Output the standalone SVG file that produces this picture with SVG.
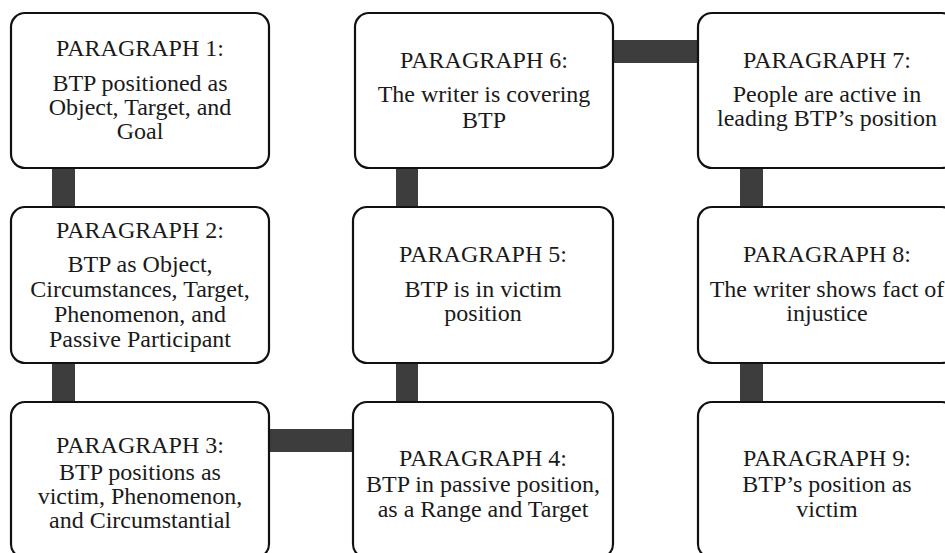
<svg xmlns="http://www.w3.org/2000/svg" width="945" height="553" viewBox="0 0 945 553">
<style>
.box{fill:#fff;stroke:#111;stroke-width:2.2}
.bar{fill:#3d3d3d}
text{font-family:"Liberation Serif","Times New Roman",serif;font-size:24px;fill:#1a1a1a;text-anchor:middle}
</style>
<rect width="945" height="553" fill="#fff"/>
<g id="connectors">
<rect class="bar" x="52" y="166" width="23" height="43"/>
<rect class="bar" x="52" y="361" width="23" height="43"/>
<rect class="bar" x="267" y="429" width="88" height="23"/>
<rect class="bar" x="396" y="361" width="22" height="43"/>
<rect class="bar" x="396" y="166" width="22" height="43"/>
<rect class="bar" x="611" y="40" width="89" height="23"/>
<rect class="bar" x="740" y="166" width="23" height="43"/>
<rect class="bar" x="740" y="361" width="23" height="43"/>
</g>
<g id="p1">
<rect class="box" x="11" y="13" width="258" height="155" rx="14"/>
<text x="140" y="56">PARAGRAPH 1:</text>
<text x="140" y="91">BTP positioned as</text>
<text x="140" y="115">Object, Target, and</text>
<text x="140" y="139">Goal</text>
</g>
<g id="p2">
<rect class="box" x="11" y="207" width="258" height="156" rx="14"/>
<text x="140" y="238">PARAGRAPH 2:</text>
<text x="140" y="272">BTP as Object,</text>
<text x="140" y="297">Circumstances, Target,</text>
<text x="140" y="322">Phenomenon, and</text>
<text x="140" y="347">Passive Participant</text>
</g>
<g id="p3">
<rect class="box" x="11" y="402" width="258" height="156" rx="14"/>
<text x="140" y="453">PARAGRAPH 3:</text>
<text x="140" y="480">BTP positions as</text>
<text x="140" y="504">victim, Phenomenon,</text>
<text x="140" y="528">and Circumstantial</text>
</g>
<g id="p4">
<rect class="box" x="353" y="402" width="260" height="156" rx="14"/>
<text x="483" y="466">PARAGRAPH 4:</text>
<text x="483" y="492">BTP in passive position,</text>
<text x="483" y="517">as a Range and Target</text>
</g>
<g id="p5">
<rect class="box" x="353" y="207" width="260" height="156" rx="14"/>
<text x="483" y="262">PARAGRAPH 5:</text>
<text x="483" y="297">BTP is in victim</text>
<text x="483" y="321">position</text>
</g>
<g id="p6">
<rect class="box" x="355" y="13" width="258" height="155" rx="14"/>
<text x="484" y="68">PARAGRAPH 6:</text>
<text x="484" y="102">The writer is covering</text>
<text x="484" y="128">BTP</text>
</g>
<g id="p7">
<rect class="box" x="698" y="13" width="258" height="155" rx="14"/>
<text x="827" y="68">PARAGRAPH 7:</text>
<text x="827" y="102">People are active in</text>
<text x="827" y="126">leading BTP’s position</text>
</g>
<g id="p8">
<rect class="box" x="698" y="207" width="258" height="156" rx="14"/>
<text x="827" y="262">PARAGRAPH 8:</text>
<text x="827" y="297">The writer shows fact of</text>
<text x="827" y="321">injustice</text>
</g>
<g id="p9">
<rect class="box" x="698" y="402" width="258" height="156" rx="14"/>
<text x="827" y="466">PARAGRAPH 9:</text>
<text x="827" y="492">BTP’s position as</text>
<text x="827" y="517">victim</text>
</g>
</svg>
